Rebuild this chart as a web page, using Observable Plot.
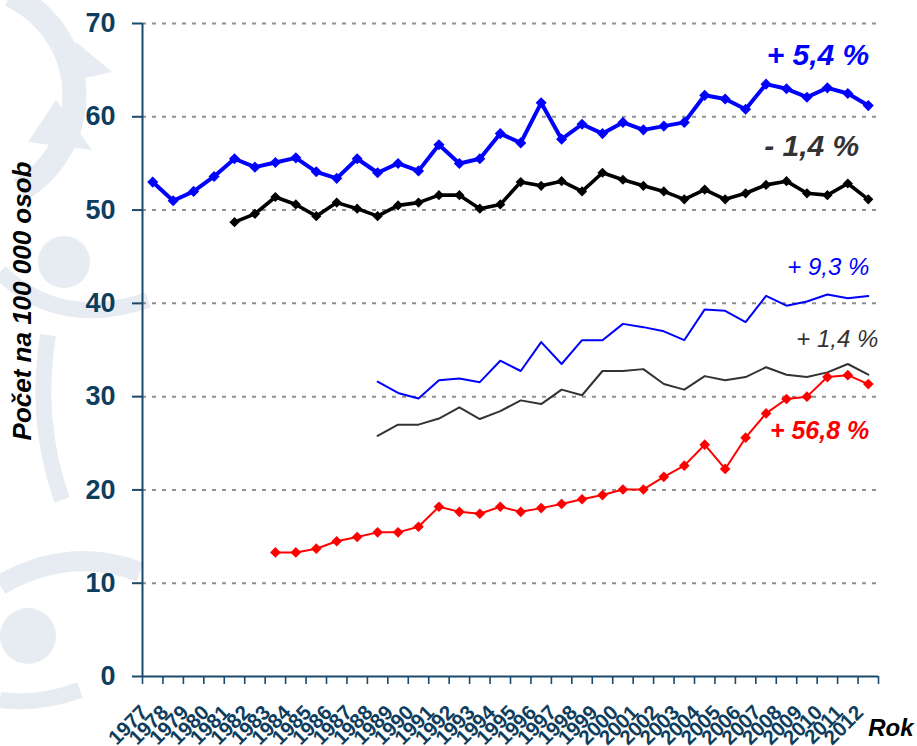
<!DOCTYPE html>
<html><head><meta charset="utf-8">
<script src="https://cdn.jsdelivr.net/npm/d3@7"></script>
<script src="https://cdn.jsdelivr.net/npm/@observablehq/plot@0.6"></script>
<style>
html,body{margin:0;padding:0;background:#fff;}
#chart{position:relative;width:917px;height:746px;overflow:hidden;}
#chart svg{position:absolute;left:0;top:0;}
</style></head><body><div id="chart"></div>
<script>
// categories
const years = [1977,1978,1979,1980,1981,1982,1983,1984,1985,1986,1987,1988,1989,1990,1991,1992,1993,1994,1995,1996,1997,1998,1999,2000,2001,2002,2003,2004,2005,2006,2007,2008,2009,2010,2011,2012];
// series values (per 100 000 persons)
const blueThickYears = years;
const blueThick = [53.0,51.0,52.0,53.6,55.5,54.6,55.1,55.6,54.1,53.4,55.5,54.0,55.0,54.2,57.0,55.0,55.5,58.2,57.2,61.5,57.6,59.2,58.2,59.4,58.6,59.0,59.4,62.3,61.9,60.8,63.5,63.0,62.1,63.1,62.5,61.2];
const blackThickYears = years.slice(4);   // 1981–2012
const blackThick = [48.7,49.6,51.4,50.6,49.35,50.8,50.15,49.35,50.5,50.8,51.6,51.6,50.15,50.6,53.0,52.6,53.1,52.0,54.0,53.25,52.6,52.0,51.15,52.2,51.15,51.8,52.7,53.1,51.8,51.6,52.85,51.15];
const thinYears = years.slice(11);        // 1988–2012
const blueThin = [31.6,30.4,29.8,31.75,31.95,31.55,33.85,32.75,35.85,33.5,36.05,36.05,37.8,37.45,37.0,36.05,39.35,39.2,38.0,40.8,39.75,40.2,40.95,40.55,40.8];
const blackThin = [25.8,27.0,27.0,27.65,28.85,27.6,28.45,29.6,29.2,30.75,30.15,32.75,32.75,32.95,31.35,30.75,32.2,31.75,32.1,33.15,32.35,32.1,32.6,33.5,32.35];
const redYears = years.slice(6);          // 1983–2012
const red = [13.3,13.3,13.7,14.5,14.95,15.45,15.45,16.05,18.2,17.65,17.45,18.2,17.65,18.05,18.5,19.0,19.45,20.05,20.05,21.4,22.6,24.85,22.25,25.6,28.2,29.75,30.0,32.1,32.3,31.35];
// tick labels and texts
const yTicks = [0,10,20,30,40,50,60,70];
const gridTicks = [10,20,30,40,50,60,70];
const changeLabels = ["+ 5,4 %","- 1,4 %","+ 9,3 %","+ 1,4 %","+ 56,8 %"];
const yTitle = "Počet na 100 000 osob";
const xTitle = "Rok";

const toRows = (ys, vs) => ys.map((x, i) => ({x, y: vs[i]}));
const sBlue = toRows(blueThickYears, blueThick);
const sBlack = toRows(blackThickYears, blackThick);
const sBlueThin = toRows(thinYears, blueThin);
const sBlackThin = toRows(thinYears, blackThin);
const sRed = toRows(redYears, red);
const last = s => s[s.length - 1];
const edges = years.map(y => y - 0.5).concat([years[years.length - 1] + 0.5]);

const navy = "#0e3d5e";
const axisStroke = "#1b4a6b";
const font = "'Liberation Sans', Arial, sans-serif";

// faint decorative watermark (background logo), purely decorative
const wm = d3.select("#chart").append("svg")
  .attr("width", 917).attr("height", 746);
const pale = "#e6ecf1";
wm.append("path").attr("d", "M 10 -5 A 110 110 0 0 1 20 190").attr("fill", "none").attr("stroke", pale).attr("stroke-width", 24);
wm.append("path").attr("d", "M 76 42 L 112 72 L 67 82 Z").attr("fill", pale);
wm.append("path").attr("d", "M 56 100 L 92 150 L 28 142 Z").attr("fill", pale);
wm.append("circle").attr("cx", 64).attr("cy", 262).attr("r", 26).attr("fill", pale);
wm.append("path").attr("d", "M 0 272 Q 60 330 148 300").attr("fill", "none").attr("stroke", pale).attr("stroke-width", 16);
wm.append("path").attr("d", "M 48 335 Q 34 420 62 500").attr("fill", "none").attr("stroke", pale).attr("stroke-width", 16);
wm.append("circle").attr("cx", 28).attr("cy", 636).attr("r", 28).attr("fill", pale);
wm.append("path").attr("d", "M 0 585 Q 70 545 140 572").attr("fill", "none").attr("stroke", pale).attr("stroke-width", 20);
wm.append("path").attr("d", "M 0 700 Q 40 705 80 690").attr("fill", "none").attr("stroke", pale).attr("stroke-width", 16);

const chart = Plot.plot({
  width: 917, height: 746,
  marginLeft: 142, marginRight: 39, marginTop: 23, marginBottom: 70,
  style: {fontFamily: font, background: "transparent", overflow: "visible"},
  x: {type: "linear", domain: [edges[0], edges[edges.length - 1]], axis: null},
  y: {domain: [0, 70], axis: null},
  marks: [
    Plot.ruleY(gridTicks, {stroke: "#8f8f8f", strokeWidth: 2, strokeDasharray: "4,6"}),
    Plot.ruleX([edges[0]], {stroke: axisStroke, strokeWidth: 2}),
    Plot.ruleY([0], {stroke: axisStroke, strokeWidth: 2}),
    Plot.axisY({ticks: yTicks, label: null, tickSize: 10, tickPadding: 17, fontSize: 27, fontWeight: "bold", color: navy, stroke: axisStroke, strokeWidth: 2, tickFormat: d => String(d)}),
    Plot.axisX({ticks: edges, label: null, tickSize: 8, stroke: axisStroke, strokeWidth: 1.6, tickFormat: () => ""}),
    // rotated year labels
    Plot.text(years, {x: d => d, frameAnchor: "bottom", text: d => String(d), textAnchor: "end", lineAnchor: "top", rotate: -45, dx: -14, dy: 27, fontSize: 20.5, fontWeight: "bold", fill: navy}),
    // thin series
    Plot.line(sBlueThin, {x: "x", y: "y", stroke: "#0000ff", strokeWidth: 2}),
    Plot.line(sBlackThin, {x: "x", y: "y", stroke: "#333333", strokeWidth: 2}),
    // red
    Plot.line(sRed, {x: "x", y: "y", stroke: "#ff0000", strokeWidth: 2}),
    Plot.dot(sRed, {x: "x", y: "y", symbol: "diamond2", r: 4.8, fill: "#ff0000", stroke: "none"}),
    // thick black
    Plot.line(sBlack, {x: "x", y: "y", stroke: "#000000", strokeWidth: 3.6}),
    Plot.dot(sBlack, {x: "x", y: "y", symbol: "diamond2", r: 4.6, fill: "#000000", stroke: "none"}),
    // thick blue
    Plot.line(sBlue, {x: "x", y: "y", stroke: "#0000ff", strokeWidth: 4}),
    Plot.dot(sBlue, {x: "x", y: "y", symbol: "diamond2", r: 5, fill: "#0000ff", stroke: "none"}),
    // change labels, anchored at the last point of each series
    Plot.text([last(sBlue)], {x: "x", y: "y", text: () => changeLabels[0], textAnchor: "end", dx: 1, dy: -50, fontSize: 30, fontWeight: "bold", fontStyle: "italic", fill: "#0000ff"}),
    Plot.text([last(sBlack)], {x: "x", y: "y", text: () => changeLabels[1], textAnchor: "end", dx: -9, dy: -53, fontSize: 30, fontWeight: "bold", fontStyle: "italic", fill: "#333333"}),
    Plot.text([last(sBlueThin)], {x: "x", y: "y", text: () => changeLabels[2], textAnchor: "end", dx: 1, dy: -29, fontSize: 24, fontStyle: "italic", fill: "#0000ff"}),
    Plot.text([last(sBlackThin)], {x: "x", y: "y", text: () => changeLabels[3], textAnchor: "end", dx: 10, dy: -35, fontSize: 24, fontStyle: "italic", fill: "#333333"}),
    Plot.text([last(sRed)], {x: "x", y: "y", text: () => changeLabels[4], textAnchor: "end", dx: 1, dy: 47, fontSize: 25, fontWeight: "bold", fontStyle: "italic", fill: "#ff0000"}),
    // axis titles
    Plot.text([yTitle], {frameAnchor: "left", text: d => d, textAnchor: "middle", rotate: -90, dx: -120, dy: -49, fontSize: 26, fontWeight: "bold", fontStyle: "italic", fill: "#000"}),
    Plot.text([xTitle], {frameAnchor: "bottom-right", text: d => d, textAnchor: "end", dx: 35, dy: 59, fontSize: 24, fontWeight: "bold", fontStyle: "italic", fill: "#000"})
  ]
});
document.getElementById("chart").appendChild(chart);
</script>
</body></html>
